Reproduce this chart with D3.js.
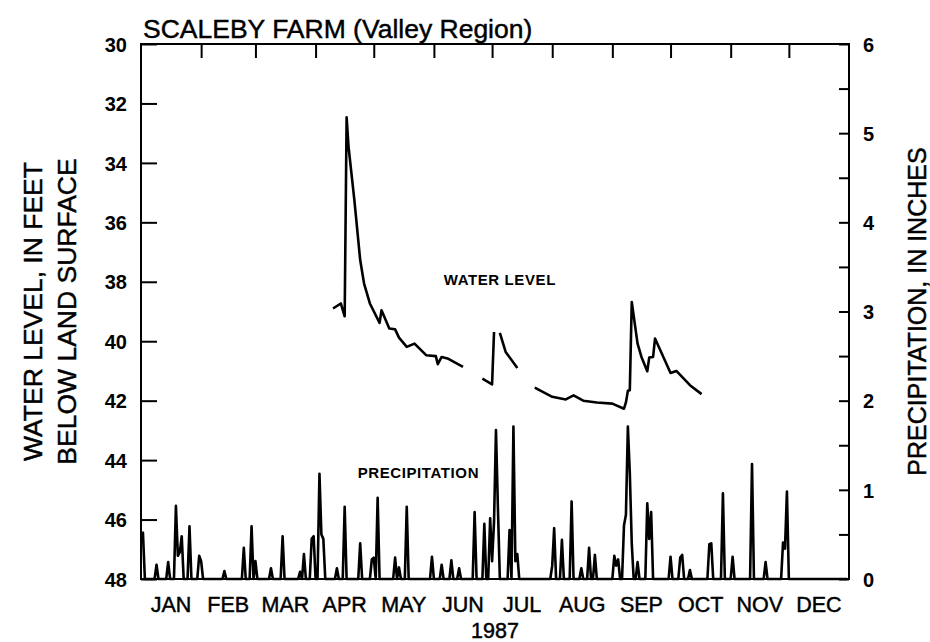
<!DOCTYPE html>
<html>
<head>
<meta charset="utf-8">
<script src="https://cdn.jsdelivr.net/npm/d3@7"></script>
<style>
  body { margin: 0; background: #fff; }
  text { font-family: "Liberation Sans", Arial, Helvetica, sans-serif; fill: #000; }
  .heavy { stroke: #000; stroke-width: 0.45px; }
</style>
</head>
<body>
<div id="chart"></div>
<script>
// day of year (0 = Jan 1 1987), inches; days not listed had no rain
const precipDays = [
  0, 1, 8, 14, 18, 19, 20, 21, 25, 30, 31, 43, 53, 57, 59, 67, 73, 82, 84, 88, 89,
  92, 93, 94, 101, 105, 113, 119, 120, 122, 131, 133, 137, 150, 155, 160, 164,
  172, 177, 180, 181, 182, 183, 184, 190, 192, 193, 194, 212, 213, 217, 222, 227,
  231, 234, 244, 245, 246, 249, 250, 251, 252, 253, 256, 261, 262, 263, 273, 278,
  279, 283, 293, 294, 300, 305, 315, 322, 331, 332, 333
];
const precipInches = [
  0.50, 0.52, 0.16, 0.19, 0.82, 0.26, 0.30, 0.48, 0.59, 0.26, 0.20, 0.09, 0.35, 0.59, 0.20, 0.12, 0.48, 0.08, 0.28, 0.45, 0.48,
  1.18, 0.50, 0.45, 0.12, 0.81, 0.40, 0.22, 0.24, 0.91, 0.24, 0.13, 0.81, 0.25, 0.16, 0.21, 0.12,
  0.75, 0.62, 0.68, 0.20, 0.64, 1.67, 0.80, 0.55, 1.71, 0.20, 0.28, 0.15, 0.57, 0.44, 0.87, 0.12,
  0.35, 0.27, 0.26, 0.15, 0.22, 0.60, 0.72, 1.71, 1.19, 0.40, 0.19, 0.85, 0.45, 0.75, 0.25, 0.24,
  0.27, 0.10, 0.39, 0.40, 0.96, 0.25, 1.29, 0.19, 0.41, 0.34, 0.98
];

// water level, feet below land surface; null = no record
const levelDays = [
  99, 103, 105, 106, 107, 110, 113, 115, 118, 123, 124, 128, 131, 133, 137, 141, 147, 152, 153, 155, 158, 166, null,
  176, 181, 182, null,
  185, 188, 194, null,
  203, 212, 219, 223, 228, 235, 243, 249, 250, 251, 252, 253, 256, 258, 261, 262, 264, 265, 273, 276, 283, 289
];
const levelFeet = [
  38.90, 38.73, 39.16, 32.47, 33.46, 35.25, 37.27, 38.06, 38.73, 39.38, 38.96, 39.57, 39.60, 39.88, 40.19, 40.08, 40.47, 40.50, 40.77, 40.53, 40.58, 40.86, null,
  41.26, 41.45, 39.69, null,
  39.72, 40.36, 40.90, null,
  41.56, 41.87, 41.96, 41.82, 42.00, 42.06, 42.10, 42.27, 42.06, 41.67, 41.65, 38.68, 40.08, 40.53, 41.01, 40.55, 40.53, 39.91, 41.07, 41.00, 41.48, 41.78
];

const monthLabels = ["JAN", "FEB", "MAR", "APR", "MAY", "JUN", "JUL", "AUG", "SEP", "OCT", "NOV", "DEC"];
const levelTicks = [30, 32, 34, 36, 38, 40, 42, 44, 46, 48];
const precipTicks = [0, 1, 2, 3, 4, 5, 6];

const W = 930, H = 642;
const margin = { top: 44, right: 81, bottom: 63, left: 141 };
const innerW = W - margin.left - margin.right,
      innerH = H - margin.top - margin.bottom;

const toDate = d => new Date(1987, 0, 1 + d);

const svg = d3.select("#chart").append("svg")
    .attr("width", W)
    .attr("height", H);

const g = svg.append("g")
    .attr("transform", `translate(${margin.left},${margin.top})`);

const x = d3.scaleTime()
    .domain([new Date(1987, 0, 1), new Date(1988, 0, 1)])
    .range([0, innerW]);
const yLevel = d3.scaleLinear().domain([30, 48]).range([0, innerH]);
const yPrecip = d3.scaleLinear().domain([0, 6]).range([innerH, 0]);

// full daily precipitation series
const rainByDay = new Map(precipDays.map((d, i) => [d, precipInches[i]]));
const precipSeries = d3.range(0, 365).map(d => ({ date: toDate(d), v: rainByDay.get(d) || 0 }));

const levelSeries = levelDays.map((d, i) => ({
    date: d === null ? null : toDate(d),
    v: levelFeet[i]
}));

// frame
g.append("rect")
    .attr("width", innerW)
    .attr("height", innerH)
    .attr("fill", "none")
    .attr("stroke", "#000")
    .attr("stroke-width", 2);

// left axis
const leftAxis = g.append("g")
    .call(d3.axisLeft(yLevel).tickValues(levelTicks).tickSize(-16).tickPadding(14));
leftAxis.select(".domain").remove();
leftAxis.selectAll("line").attr("stroke-width", 2);
leftAxis.selectAll("text")
    .style("font-size", "20px")
    .style("font-weight", "bold")
    .attr("dy", "0.36em");

// right axis
const rightAxis = g.append("g")
    .attr("transform", `translate(${innerW},0)`)
    .call(d3.axisRight(yPrecip).ticks(12).tickSize(-10).tickPadding(14)
        .tickFormat(d => precipTicks.includes(d) ? d : ""));
rightAxis.select(".domain").remove();
rightAxis.selectAll("line").attr("stroke-width", 2);
rightAxis.selectAll("text")
    .style("font-size", "20px")
    .style("font-weight", "bold")
    .attr("dy", "0.36em");

// top month ticks
const topAxis = g.append("g")
    .call(d3.axisTop(x).ticks(d3.timeMonth.every(1)).tickSize(-14).tickFormat(""));
topAxis.select(".domain").remove();
topAxis.selectAll(".tick").filter(d => d.getMonth() === 0).remove();
topAxis.selectAll("line").attr("stroke-width", 2);

// month labels, centred in each month
const monthStarts = d3.timeMonth.range(new Date(1987, 0, 1), new Date(1988, 0, 1));
g.selectAll(".month")
    .data(monthStarts)
    .enter().append("text")
    .attr("class", "month heavy")
    .attr("x", d => (x(d) + x(d3.timeMonth.offset(d, 1))) / 2)
    .attr("y", innerH + 33)
    .attr("text-anchor", "middle")
    .style("font-size", "21.5px")
    .text((d, i) => monthLabels[i]);

g.append("text")
    .attr("class", "heavy")
    .attr("x", innerW / 2)
    .attr("y", innerH + 59)
    .attr("text-anchor", "middle")
    .style("font-size", "21.5px")
    .text("1987");

// precipitation line
g.append("path")
    .datum(precipSeries)
    .attr("fill", "none")
    .attr("stroke", "#000")
    .attr("stroke-width", 2.6)
    .attr("stroke-linejoin", "round")
    .attr("d", d3.line().x(d => x(d.date)).y(d => yPrecip(d.v)));

// water level line
g.append("path")
    .datum(levelSeries)
    .attr("fill", "none")
    .attr("stroke", "#000")
    .attr("stroke-width", 2.6)
    .attr("stroke-linejoin", "round")
    .attr("d", d3.line()
        .defined(d => d.date !== null)
        .x(d => x(d.date))
        .y(d => yLevel(d.v)));

// series labels
g.append("text")
    .attr("x", x(toDate(185)))
    .attr("y", yLevel(38.1))
    .attr("text-anchor", "middle")
    .style("font-size", "15px")
    .style("font-weight", "bold")
    .style("letter-spacing", "0.6px")
    .text("WATER LEVEL");

g.append("text")
    .attr("x", x(toDate(143)))
    .attr("y", yLevel(44.6))
    .attr("text-anchor", "middle")
    .style("font-size", "15px")
    .style("font-weight", "bold")
    .style("letter-spacing", "0.6px")
    .text("PRECIPITATION");

// title
svg.append("text")
    .attr("class", "heavy")
    .attr("x", 143)
    .attr("y", 38)
    .style("font-size", "26.5px")
    .text("SCALEBY FARM (Valley Region)");

// axis titles
const midY = margin.top + innerH / 2;
svg.append("text")
    .attr("class", "heavy")
    .attr("transform", `translate(42,${midY}) rotate(-90)`)
    .attr("text-anchor", "middle")
    .style("font-size", "26.5px")
    .text("WATER LEVEL, IN FEET");
svg.append("text")
    .attr("class", "heavy")
    .attr("transform", `translate(76,${midY}) rotate(-90)`)
    .attr("text-anchor", "middle")
    .style("font-size", "26.5px")
    .text("BELOW LAND SURFACE");
svg.append("text")
    .attr("class", "heavy")
    .attr("transform", `translate(926,${midY}) rotate(-90)`)
    .attr("text-anchor", "middle")
    .style("font-size", "25px")
    .text("PRECIPITATION, IN INCHES");
</script>
</body>
</html>
